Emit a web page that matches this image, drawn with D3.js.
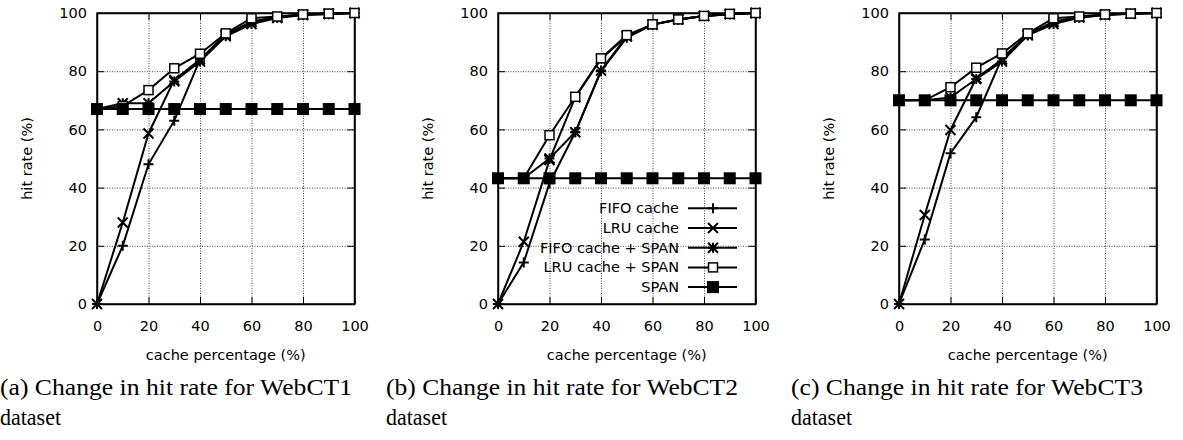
<!DOCTYPE html>
<html>
<head>
<meta charset="utf-8">
<script src="https://cdn.jsdelivr.net/npm/d3@7"></script>
<style>
  body { margin: 0; background: #fff; }
  text { font-family: "DejaVu Sans", sans-serif; }
  text.caption { font-family: "Liberation Serif", "DejaVu Serif", serif; }
</style>
</head>
<body>
<svg id="chart" width="1183" height="440"></svg>
<script>
const cachePercent = [0, 10, 20, 30, 40, 50, 60, 70, 80, 90, 100];
const seriesNames = ['FIFO cache', 'LRU cache', 'FIFO cache + SPAN', 'LRU cache + SPAN', 'SPAN'];
const tickValues = [0, 20, 40, 60, 80, 100];

// WebCT1
const ct1Fifo     = [0, 20, 48, 63, 84, 92.5, 97, 98.5, 99.4, 99.7, 100];
const ct1Lru      = [0, 28, 58.6, 77, 84, 92.5, 97, 98.6, 99.5, 99.8, 100];
const ct1FifoSpan = [67, 69, 69, 76.5, 83.3, 92, 96.2, 98.3, 99.3, 99.6, 100];
const ct1LruSpan  = [67, 68, 73.5, 81, 86, 93, 98.2, 98.8, 99.5, 99.8, 100];
const ct1Span     = [67, 67, 67, 67, 67, 67, 67, 67, 67, 67, 67];

// WebCT2
const ct2Fifo     = [0, 14.3, 41.5, 59, 80, 91.5, 96, 97.8, 99, 99.6, 100];
const ct2Lru      = [0, 21.4, 49.5, 71, 84.2, 92, 96, 97.8, 99, 99.6, 100];
const ct2FifoSpan = [43.2, 43.2, 50, 59, 80.2, 92, 96, 97.8, 99, 99.6, 100];
const ct2LruSpan  = [43.2, 43.2, 58, 71.2, 84.4, 92.4, 96.1, 97.8, 99, 99.7, 100];
const ct2Span     = [43.2, 43.2, 43.2, 43.2, 43.2, 43.2, 43.2, 43.2, 43.2, 43.2, 43.2];

// WebCT3
const ct3Fifo     = [0, 22.2, 51.8, 64.2, 84.5, 92.5, 97, 98.5, 99.4, 99.7, 100];
const ct3Lru      = [0, 30.6, 59.8, 77.6, 84, 92.5, 97, 98.6, 99.5, 99.8, 100];
const ct3FifoSpan = [70, 70, 71, 77.3, 83.3, 92.3, 96.2, 98.4, 99.3, 99.7, 100];
const ct3LruSpan  = [70, 70, 74.5, 81.2, 86.1, 93, 98.2, 98.8, 99.5, 99.8, 100];
const ct3Span     = [70, 70, 70, 70, 70, 70, 70, 70, 70, 70, 70];

const captions = [
  ['(a) Change in hit rate for WebCT1', 'dataset'],
  ['(b) Change in hit rate for WebCT2', 'dataset'],
  ['(c) Change in hit rate for WebCT3', 'dataset']
];

const panels = [
  [ct1Fifo, ct1Lru, ct1FifoSpan, ct1LruSpan, ct1Span],
  [ct2Fifo, ct2Lru, ct2FifoSpan, ct2LruSpan, ct2Span],
  [ct3Fifo, ct3Lru, ct3FifoSpan, ct3LruSpan, ct3Span]
];

const svg = d3.select('#chart');
const panelLeft = [97, 498, 899];
const captionLeft = [0, 386, 791];
const plotW = 257.5;
const plotTop = 13, plotBottom = 304;

const xScale = d3.scaleLinear().domain([0, 100]).range([0, plotW]);
const yScale = d3.scaleLinear().domain([0, 100]).range([plotBottom, plotTop]);

// gnuplot point types: +, x, *, open square, filled square
function drawMarker(g, type, x, y) {
  const r = 5;
  if (type === 0 || type === 2) {
    g.append('path').attr('d', `M${x - r},${y}H${x + r}M${x},${y - r}V${y + r}`);
  }
  if (type === 1 || type === 2) {
    g.append('path').attr('d', `M${x - r},${y - r}L${x + r},${y + r}M${x - r},${y + r}L${x + r},${y - r}`);
  }
  if (type === 3) {
    g.append('rect').attr('x', x - 4.5).attr('y', y - 4.5).attr('width', 9).attr('height', 9)
      .attr('fill', '#fff').attr('stroke-width', 1.5);
  }
  if (type === 4) {
    g.append('rect').attr('x', x - 5).attr('y', y - 5).attr('width', 10).attr('height', 10)
      .attr('fill', '#000');
  }
}

panels.forEach((series, p) => {
  const g = svg.append('g').attr('transform', `translate(${panelLeft[p]},0)`);

  // grid
  g.append('g').attr('transform', `translate(0,${plotBottom})`)
    .call(d3.axisBottom(xScale).tickValues(tickValues.slice(1, -1)).tickSize(-(plotBottom - plotTop)).tickFormat(''))
    .call(a => a.select('.domain').remove())
    .selectAll('line').attr('stroke', '#444').attr('stroke-dasharray', '1,1.5');
  g.append('g')
    .call(d3.axisLeft(yScale).tickValues(tickValues.slice(1, -1)).tickSize(-plotW).tickFormat(''))
    .call(a => a.select('.domain').remove())
    .selectAll('line').attr('stroke', '#444').attr('stroke-dasharray', '1,1.5');

  // axes with inward ticks
  g.append('g').attr('transform', `translate(0,${plotBottom})`)
    .call(d3.axisBottom(xScale).tickValues(tickValues).tickSizeInner(-7).tickSizeOuter(0).tickPadding(17));
  g.append('g')
    .call(d3.axisLeft(yScale).tickValues(tickValues).tickSizeInner(-7).tickSizeOuter(0).tickPadding(10));
  g.append('g').attr('transform', `translate(0,${plotTop})`)
    .call(d3.axisTop(xScale).tickValues(tickValues).tickSizeInner(-7).tickSizeOuter(0).tickFormat(''));
  g.append('g').attr('transform', `translate(${plotW},0)`)
    .call(d3.axisRight(yScale).tickValues(tickValues).tickSizeInner(-7).tickSizeOuter(0).tickFormat(''));
  g.selectAll('.domain').attr('stroke-width', 1.5);
  g.selectAll('.tick text').attr('font-size', 14.5).attr('font-family', '"DejaVu Sans", sans-serif').attr('fill', '#000');

  g.append('rect').attr('x', 0).attr('y', plotTop).attr('width', plotW).attr('height', plotBottom - plotTop)
    .attr('fill', 'none').attr('stroke', '#000').attr('stroke-width', 1.5);

  // axis titles
  g.append('text').attr('x', plotW / 2).attr('y', 360).attr('text-anchor', 'middle')
    .attr('font-size', 14.5).text('cache percentage (%)');
  g.append('text').attr('transform', `translate(-65,${(plotTop + plotBottom) / 2}) rotate(-90)`)
    .attr('text-anchor', 'middle').attr('font-size', 14.5).text('hit rate (%)');

  // series
  const line = d3.line().x((d, i) => xScale(cachePercent[i])).y(d => yScale(d));
  series.forEach((vals, s) => {
    g.append('path').datum(vals).attr('d', line)
      .attr('fill', 'none').attr('stroke', '#000').attr('stroke-width', 2);
    const mg = g.append('g').attr('stroke', '#000').attr('stroke-width', 2).attr('fill', 'none');
    vals.forEach((v, i) => drawMarker(mg, s, xScale(cachePercent[i]), yScale(v)));
  });

  // legend only in panel b
  if (p === 1) {
    const lg = g.append('g');
    seriesNames.forEach((name, s) => {
      const y = 208.3 + s * 19.7;
      lg.append('text').attr('x', 181).attr('y', y).attr('dy', '0.35em').attr('text-anchor', 'end')
        .attr('font-size', 14.5).text(name);
      lg.append('line').attr('x1', 190).attr('x2', 239).attr('y1', y).attr('y2', y)
        .attr('stroke', '#000').attr('stroke-width', 2);
      const mg = lg.append('g').attr('stroke', '#000').attr('stroke-width', 2).attr('fill', 'none');
      drawMarker(mg, s, 215, y);
    });
  }

  // caption
  svg.append('text').attr('class', 'caption').attr('x', captionLeft[p]).attr('y', 395)
    .attr('font-size', 23).attr('textLength', 352).attr('lengthAdjust', 'spacingAndGlyphs')
    .text(captions[p][0]);
  svg.append('text').attr('class', 'caption').attr('x', captionLeft[p]).attr('y', 425)
    .attr('font-size', 23).attr('textLength', 61).attr('lengthAdjust', 'spacingAndGlyphs')
    .text(captions[p][1]);
});
</script>
</body>
</html>
